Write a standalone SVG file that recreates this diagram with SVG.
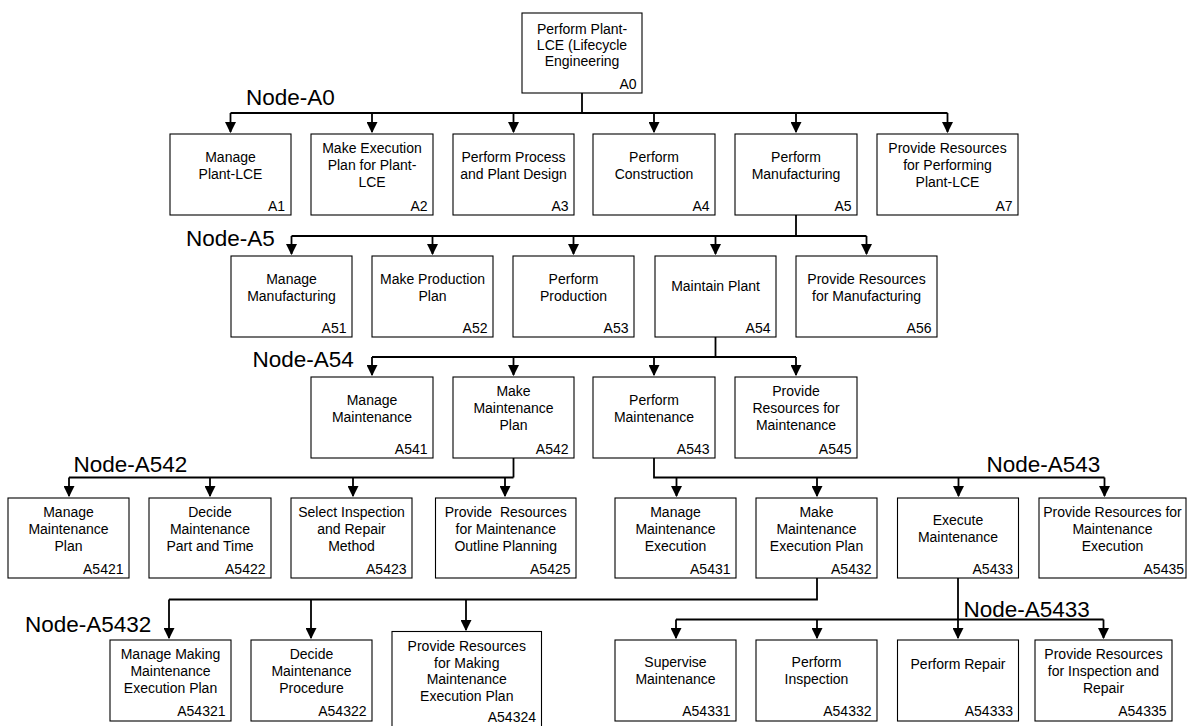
<svg xmlns="http://www.w3.org/2000/svg" width="1187" height="726" viewBox="0 0 1187 726">
<style>
.box{fill:#fff;stroke:#000;stroke-width:1.1}
.t{font-family:"Liberation Sans",Arial,sans-serif;font-size:14px;fill:#000;text-anchor:middle}
.id{font-family:"Liberation Sans",Arial,sans-serif;font-size:14px;fill:#000;text-anchor:end}
.node{font-family:"Liberation Sans",Arial,sans-serif;font-size:22.5px;fill:#000}
.c{stroke:#000;stroke-width:1.8;fill:none}
.a{stroke:#000;stroke-width:1.8;fill:none;marker-end:url(#ah)}
</style>
<defs>
<marker id="ah" viewBox="0 0 10 10" refX="9" refY="5" markerWidth="11" markerHeight="11" markerUnits="userSpaceOnUse" orient="auto">
<path d="M0,0 L10,5 L0,10 z" fill="#000"/>
</marker>
</defs>
<rect x="0" y="0" width="1187" height="726" fill="#fff"/>

<g id="connectors">
<path class="c" d="M582,93 V113 M230.5,113 H947.5"/>
<path class="a" d="M230.5,113 V132"/><path class="a" d="M372,113 V132"/><path class="a" d="M513.5,113 V132"/><path class="a" d="M654,113 V132"/><path class="a" d="M796,113 V132"/><path class="a" d="M947.5,113 V132"/>
<path class="c" d="M796,215 V236 M291.5,236 H866.5"/>
<path class="a" d="M291.5,236 V254"/><path class="a" d="M432.5,236 V254"/><path class="a" d="M573.5,236 V254"/><path class="a" d="M715.5,236 V254"/><path class="a" d="M866.5,236 V254"/>
<path class="c" d="M715.5,337 V357 M372,357 H796"/>
<path class="a" d="M372,357 V375"/><path class="a" d="M513.5,357 V375"/><path class="a" d="M654,357 V375"/><path class="a" d="M796,357 V375"/>
<path class="c" d="M513.5,458 V477.5 M69,477.5 H513.5"/>
<path class="a" d="M69,477.5 V496"/><path class="a" d="M210,477.5 V496"/><path class="a" d="M353,477.5 V496"/><path class="a" d="M505,477.5 V496"/>
<path class="c" d="M654,458 V477.5 H1104.5"/>
<path class="a" d="M676.5,477.5 V496"/><path class="a" d="M817,477.5 V496"/><path class="a" d="M958.5,477.5 V496"/><path class="a" d="M1104.5,477.5 V496"/>
<path class="c" d="M817,578 V599.5 H169"/>
<path class="a" d="M169,599.5 V638"/><path class="a" d="M311,599.5 V638"/><path class="a" d="M466,599.5 V630"/>
<path class="c" d="M676,619.5 H1103.5"/>
<path class="a" d="M958,578 V638"/><path class="a" d="M676,619.5 V638"/><path class="a" d="M817,619.5 V638"/><path class="a" d="M1103.5,619.5 V638"/>
</g>

<g id="labels">
<text class="node" x="246" y="105">Node-A0</text>
<text class="node" x="186" y="246">Node-A5</text>
<text class="node" x="252.5" y="366.5">Node-A54</text>
<text class="node" x="73.5" y="472">Node-A542</text>
<text class="node" x="986.5" y="472">Node-A543</text>
<text class="node" x="25" y="631.5">Node-A5432</text>
<text class="node" x="963.5" y="616.5">Node-A5433</text>
</g>

<g id="A0"><rect class="box" x="522" y="13" width="120" height="80"/>
<text class="t"><tspan x="582" y="33.5">Perform Plant-</tspan><tspan x="582" y="49.5">LCE (Lifecycle</tspan><tspan x="582" y="65.5">Engineering</tspan></text>
<text class="id" x="636.5" y="88.5">A0</text></g>

<g id="A1"><rect class="box" x="170" y="134" width="121" height="81"/>
<text class="t"><tspan x="230.5" y="161.5">Manage</tspan><tspan x="230.5" y="178.5">Plant-LCE</tspan></text>
<text class="id" x="285" y="210.5">A1</text></g>
<g id="A2"><rect class="box" x="311" y="134" width="122" height="81"/>
<text class="t"><tspan x="372" y="153">Make Execution</tspan><tspan x="372" y="170">Plan for Plant-</tspan><tspan x="372" y="187">LCE</tspan></text>
<text class="id" x="427.5" y="210.5">A2</text></g>
<g id="A3"><rect class="box" x="453" y="134" width="121" height="81"/>
<text class="t"><tspan x="513.5" y="161.5">Perform Process</tspan><tspan x="513.5" y="178.5">and Plant Design</tspan></text>
<text class="id" x="568.5" y="210.5">A3</text></g>
<g id="A4"><rect class="box" x="593" y="134" width="122" height="81"/>
<text class="t"><tspan x="654" y="161.5">Perform</tspan><tspan x="654" y="178.5">Construction</tspan></text>
<text class="id" x="709.5" y="210.5">A4</text></g>
<g id="A5"><rect class="box" x="735" y="134" width="122" height="81"/>
<text class="t"><tspan x="796" y="161.5">Perform</tspan><tspan x="796" y="178.5">Manufacturing</tspan></text>
<text class="id" x="851.5" y="210.5">A5</text></g>
<g id="A7"><rect class="box" x="877" y="134" width="141" height="81"/>
<text class="t"><tspan x="947.5" y="153">Provide Resources</tspan><tspan x="947.5" y="170">for Performing</tspan><tspan x="947.5" y="187">Plant-LCE</tspan></text>
<text class="id" x="1012.5" y="210.5">A7</text></g>

<g id="A51"><rect class="box" x="231" y="256" width="121" height="81"/>
<text class="t"><tspan x="291.5" y="283.5">Manage</tspan><tspan x="291.5" y="300.5">Manufacturing</tspan></text>
<text class="id" x="346.5" y="332.5">A51</text></g>
<g id="A52"><rect class="box" x="372" y="256" width="121" height="81"/>
<text class="t"><tspan x="432.5" y="283.5">Make Production</tspan><tspan x="432.5" y="300.5">Plan</tspan></text>
<text class="id" x="487.5" y="332.5">A52</text></g>
<g id="A53"><rect class="box" x="513" y="256" width="121" height="81"/>
<text class="t"><tspan x="573.5" y="283.5">Perform</tspan><tspan x="573.5" y="300.5">Production</tspan></text>
<text class="id" x="628.5" y="332.5">A53</text></g>
<g id="A54"><rect class="box" x="655" y="256" width="121" height="81"/>
<text class="t" x="715.5" y="291">Maintain Plant</text>
<text class="id" x="770.5" y="332.5">A54</text></g>
<g id="A56"><rect class="box" x="796" y="256" width="141" height="81"/>
<text class="t"><tspan x="866.5" y="283.5">Provide Resources</tspan><tspan x="866.5" y="300.5">for Manufacturing</tspan></text>
<text class="id" x="931.5" y="332.5">A56</text></g>

<g id="A541"><rect class="box" x="311" y="377" width="122" height="81"/>
<text class="t"><tspan x="372" y="404.5">Manage</tspan><tspan x="372" y="421.5">Maintenance</tspan></text>
<text class="id" x="427.5" y="453.5">A541</text></g>
<g id="A542"><rect class="box" x="453" y="377" width="121" height="81"/>
<text class="t"><tspan x="513.5" y="396">Make</tspan><tspan x="513.5" y="413">Maintenance</tspan><tspan x="513.5" y="430">Plan</tspan></text>
<text class="id" x="568.5" y="453.5">A542</text></g>
<g id="A543"><rect class="box" x="593" y="377" width="122" height="81"/>
<text class="t"><tspan x="654" y="404.5">Perform</tspan><tspan x="654" y="421.5">Maintenance</tspan></text>
<text class="id" x="709.5" y="453.5">A543</text></g>
<g id="A545"><rect class="box" x="735" y="377" width="122" height="81"/>
<text class="t"><tspan x="796" y="396">Provide</tspan><tspan x="796" y="413">Resources for</tspan><tspan x="796" y="430">Maintenance</tspan></text>
<text class="id" x="851.5" y="453.5">A545</text></g>

<g id="A5421"><rect class="box" x="8" y="498" width="121" height="80"/>
<text class="t"><tspan x="68.5" y="516.5">Manage</tspan><tspan x="68.5" y="533.5">Maintenance</tspan><tspan x="68.5" y="550.5">Plan</tspan></text>
<text class="id" x="123.5" y="573.5">A5421</text></g>
<g id="A5422"><rect class="box" x="149" y="498" width="122" height="80"/>
<text class="t"><tspan x="210" y="516.5">Decide</tspan><tspan x="210" y="533.5">Maintenance</tspan><tspan x="210" y="550.5">Part and Time</tspan></text>
<text class="id" x="265.5" y="573.5">A5422</text></g>
<g id="A5423"><rect class="box" x="291" y="498" width="121" height="80"/>
<text class="t"><tspan x="351.5" y="516.5">Select Inspection</tspan><tspan x="351.5" y="533.5">and Repair</tspan><tspan x="351.5" y="550.5">Method</tspan></text>
<text class="id" x="406.5" y="573.5">A5423</text></g>
<g id="A5425"><rect class="box" x="435.5" y="498" width="140.5" height="80"/>
<text class="t" xml:space="preserve"><tspan x="505.75" y="516.5">Provide  Resources</tspan><tspan x="505.75" y="533.5">for Maintenance</tspan><tspan x="505.75" y="550.5">Outline Planning</tspan></text>
<text class="id" x="570.5" y="573.5">A5425</text></g>

<g id="A5431"><rect class="box" x="615" y="498" width="121" height="80"/>
<text class="t"><tspan x="675.5" y="516.5">Manage</tspan><tspan x="675.5" y="533.5">Maintenance</tspan><tspan x="675.5" y="550.5">Execution</tspan></text>
<text class="id" x="730.5" y="573.5">A5431</text></g>
<g id="A5432"><rect class="box" x="756" y="498" width="121" height="80"/>
<text class="t"><tspan x="816.5" y="516.5">Make</tspan><tspan x="816.5" y="533.5">Maintenance</tspan><tspan x="816.5" y="550.5">Execution Plan</tspan></text>
<text class="id" x="871.5" y="573.5">A5432</text></g>
<g id="A5433"><rect class="box" x="897.5" y="498" width="121" height="80"/>
<text class="t"><tspan x="958" y="525">Execute</tspan><tspan x="958" y="542">Maintenance</tspan></text>
<text class="id" x="1013" y="573.5">A5433</text></g>
<g id="A5435"><rect class="box" x="1039" y="498" width="147" height="80"/>
<text class="t"><tspan x="1112.5" y="516.5">Provide Resources for</tspan><tspan x="1112.5" y="533.5">Maintenance</tspan><tspan x="1112.5" y="550.5">Execution</tspan></text>
<text class="id" x="1184" y="573.5">A5435</text></g>

<g id="A54321"><rect class="box" x="110" y="640" width="121" height="81"/>
<text class="t"><tspan x="170.5" y="658.5">Manage Making</tspan><tspan x="170.5" y="675.5">Maintenance</tspan><tspan x="170.5" y="692.5">Execution Plan</tspan></text>
<text class="id" x="225.5" y="716">A54321</text></g>
<g id="A54322"><rect class="box" x="251" y="640" width="121" height="81"/>
<text class="t"><tspan x="311.5" y="658.5">Decide</tspan><tspan x="311.5" y="675.5">Maintenance</tspan><tspan x="311.5" y="692.5">Procedure</tspan></text>
<text class="id" x="366.5" y="716">A54322</text></g>
<g id="A54324"><rect class="box" x="392" y="631.5" width="149.5" height="97"/>
<text class="t"><tspan x="466.75" y="650.5">Provide Resources</tspan><tspan x="466.75" y="667.5">for Making</tspan><tspan x="466.75" y="684.3">Maintenance</tspan><tspan x="466.75" y="701">Execution Plan</tspan></text>
<text class="id" x="536" y="721.5">A54324</text></g>

<g id="A54331"><rect class="box" x="615" y="640" width="121" height="81"/>
<text class="t"><tspan x="675.5" y="667">Supervise</tspan><tspan x="675.5" y="684">Maintenance</tspan></text>
<text class="id" x="730.5" y="716">A54331</text></g>
<g id="A54332"><rect class="box" x="756" y="640" width="121" height="81"/>
<text class="t"><tspan x="816.5" y="667">Perform</tspan><tspan x="816.5" y="684">Inspection</tspan></text>
<text class="id" x="871.5" y="716">A54332</text></g>
<g id="A54333"><rect class="box" x="897.5" y="640" width="121" height="81"/>
<text class="t" x="958" y="669">Perform Repair</text>
<text class="id" x="1013" y="716">A54333</text></g>
<g id="A54335"><rect class="box" x="1035" y="640" width="137" height="81"/>
<text class="t"><tspan x="1103.5" y="658.5">Provide Resources</tspan><tspan x="1103.5" y="675.5">for Inspection and</tspan><tspan x="1103.5" y="692.5">Repair</tspan></text>
<text class="id" x="1166.5" y="716">A54335</text></g>
</svg>
